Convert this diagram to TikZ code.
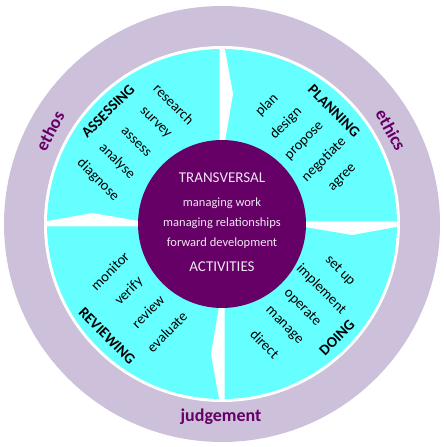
\documentclass[tikz,border=0pt]{standalone}
\usepackage{fontspec}
\setmainfont{Carlito}
\definecolor{lilac}{HTML}{CCC0DA}
\definecolor{aqua}{HTML}{66FFFF}
\definecolor{plum}{HTML}{660066}
\definecolor{pale}{HTML}{F0E6F2}

\begin{document}
\begin{tikzpicture}[x=1pt, y=1pt,
  word/.style={font=\fontsize{14.5}{16}\selectfont, inner sep=0pt},
  head/.style={font=\fontsize{15}{17}\selectfont\bfseries, inner sep=0pt},
  ring/.style={font=\fontsize{18}{20}\selectfont\bfseries, text=plum, inner sep=0pt},
  mid/.style={font=\fontsize{12.5}{14}\selectfont, text=pale, inner sep=0pt},
  capline/.style={font=\fontsize{15}{17}\selectfont, text=pale, inner sep=0pt}]
\useasboundingbox (-222,-223) rectangle (222,224);
\fill[lilac] (0,0) circle (218);
\fill[white] (0,0) circle (178);
\fill[aqua] (0,0) circle (175);
\foreach \a in {0,-90,-180,-270}
  \fill[white, rotate=\a] (-2.5,80) -- (-2.5,177) -- (2.5,177) -- (11,130) -- (2.5,80) -- cycle;
\node[circle, fill=plum, minimum size=168pt, inner sep=0pt] (hub) at (0,0) {};

\node[capline] (trans) at (0,46) {TRANSVERSAL};
\node[mid] (work) at (0,21) {managing work};
\node[mid] (rel) at (0,1) {managing relationships};
\node[mid] (fwd) at (0,-19) {forward development};
\node[capline] (act) at (0,-43) {ACTIVITIES};

\node[head, rotate=45] (assessing) at (-114,113) {ASSESSING};
\foreach \w [count=\i from 0] in {research,survey,assess,analyse,diagnose}
  \node[word, rotate=-45] (as\i) at ({-48-19*\i},{120-19*\i}) {\w};

\node[head, rotate=-45] (planning) at (112,113) {PLANNING};
\foreach \w [count=\i from 0] in {plan,design,propose,negotiate,agree}
  \node[word, rotate=45] (pl\i) at ({45+19*\i},{119-18.3*\i}) {\w};

\node[head, rotate=45] (doing) at (115,-114) {DOING};
\foreach \w [count=\i from 0] in {set up,implement,operate,manage,direct}
  \node[word, rotate=-45] (do\i) at ({118-18.8*\i},{-47-18.3*\i}) {\w};

\node[head, rotate=-45] (reviewing) at (-115,-112) {REVIEWING};
\foreach \w [count=\i from 0] in {monitor,verify,review,evaluate}
  \node[word, rotate=45] (rv\i) at ({-112+19*\i},{-47-20.3*\i}) {\w};

\node[ring, rotate=62] (ethos) at (-172,93) {ethos};
\node[ring, rotate=-61] (ethics) at (169,94) {ethics};
\node[ring] (judgement) at (-1,-193) {judgement};
\end{tikzpicture}
\end{document}
